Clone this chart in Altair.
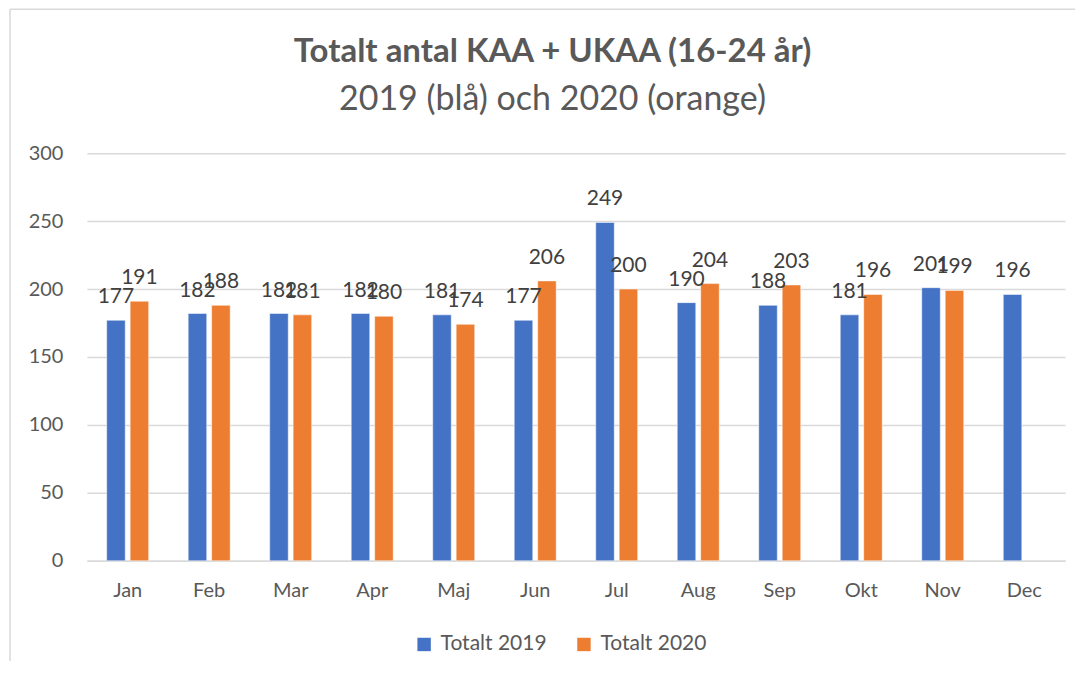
import altair as alt
import pandas as pd

months = ["Jan", "Feb", "Mar", "Apr", "Maj", "Jun", "Jul", "Aug", "Sep", "Okt", "Nov", "Dec"]
totalt_2019 = [177, 182, 182, 182, 181, 177, 249, 190, 188, 181, 201, 196]
totalt_2020 = [191, 188, 181, 180, 174, 206, 200, 204, 203, 196, 199, None]
series_names = ["Totalt 2019", "Totalt 2020"]
colors = ["#4472C4", "#ED7D31"]
title_text = "Totalt antal KAA + UKAA (16-24 år)"
subtitle_text = "2019 (blå) och 2020 (orange)"

rows = []
for m, a, b in zip(months, totalt_2019, totalt_2020):
    rows.append({"Månad": m, "Serie": series_names[0], "Värde": a})
    if b is not None:
        rows.append({"Månad": m, "Serie": series_names[1], "Värde": b})
df = pd.DataFrame(rows)

FONT = "Lato"
TXT = "#595959"

x_enc = alt.X("Månad:N", sort=months,
              scale=alt.Scale(paddingInner=0.485, paddingOuter=0.2425),
              axis=alt.Axis(title=None, labelAngle=0, labelFontSize=20, labelFont=FONT,
                            labelColor=TXT, ticks=False, domain=True, domainColor="#D9D9D9",
                            domainWidth=1.5, labelPadding=20, grid=False))
xoff = alt.XOffset("Serie:N", sort=series_names,
                   scale=alt.Scale(paddingInner=0.21, paddingOuter=0))
y_enc = alt.Y("Värde:Q", scale=alt.Scale(domain=[0, 300], nice=False),
              axis=alt.Axis(title=None, values=[0, 50, 100, 150, 200, 250, 300],
                            labelFontSize=20, labelFont=FONT, labelColor=TXT,
                            ticks=False, domain=False, grid=True, gridColor="#D9D9D9",
                            gridWidth=1.5, labelPadding=24))
color_enc = alt.Color("Serie:N", sort=series_names,
                      scale=alt.Scale(domain=series_names, range=colors),
                      legend=alt.Legend(title=None, orient="none", direction="horizontal",
                                        legendX=327, legendY=481, symbolType="square",
                                        symbolSize=180, symbolStrokeWidth=0,
                                        labelFontSize=21, labelFont=FONT, labelColor=TXT,
                                        columnPadding=26, symbolOffset=0, labelOffset=6))

base = alt.Chart(df)

bars = base.mark_bar(stroke="white", strokeWidth=0.5).encode(
    x=x_enc, xOffset=xoff, y=y_enc, color=color_enc
)

labels = base.mark_text(baseline="alphabetic", dy=-17, fontSize=21, font=FONT,
                        color="#404040").encode(
    x=alt.X("Månad:N", sort=months),
    xOffset=alt.XOffset("Serie:N", sort=series_names),
    y=alt.Y("Värde:Q"), text="Värde:Q"
)

one = pd.DataFrame({"k": [0]})
border_left = alt.Chart(one).mark_rule(color="#D9D9D9", strokeWidth=1.5).encode(
    x=alt.value(-77), y=alt.value(-144), y2=alt.value(700))
border_top = alt.Chart(one).mark_rule(color="#D9D9D9", strokeWidth=1.5).encode(
    x=alt.value(-77), x2=alt.value(1100), y=alt.value(-144))

title_mark = alt.Chart(pd.DataFrame({"t": [title_text]})).mark_text(
    font=FONT, fontSize=33, fontWeight="bold", color=TXT, align="center",
    baseline="alphabetic").encode(text="t:N", x=alt.value(466), y=alt.value(-91))
subtitle_mark = alt.Chart(pd.DataFrame({"t": [subtitle_text]})).mark_text(
    font=FONT, fontSize=34, color=TXT, align="center",
    baseline="alphabetic").encode(text="t:N", x=alt.value(466), y=alt.value(-43))

chart = alt.layer(border_left, border_top, title_mark, subtitle_mark, bars, labels).properties(
    width=979, height=408,
    view=alt.ViewBackground(stroke="transparent", strokeWidth=0),
    autosize=alt.AutoSizeParams(type="none"),
    padding={"left": 79, "top": 145, "right": 10, "bottom": 100},
).configure_view(stroke="transparent", strokeWidth=0).configure(background="white")

chart.save("out.html", embed_options={"renderer": "svg", "actions": False})
